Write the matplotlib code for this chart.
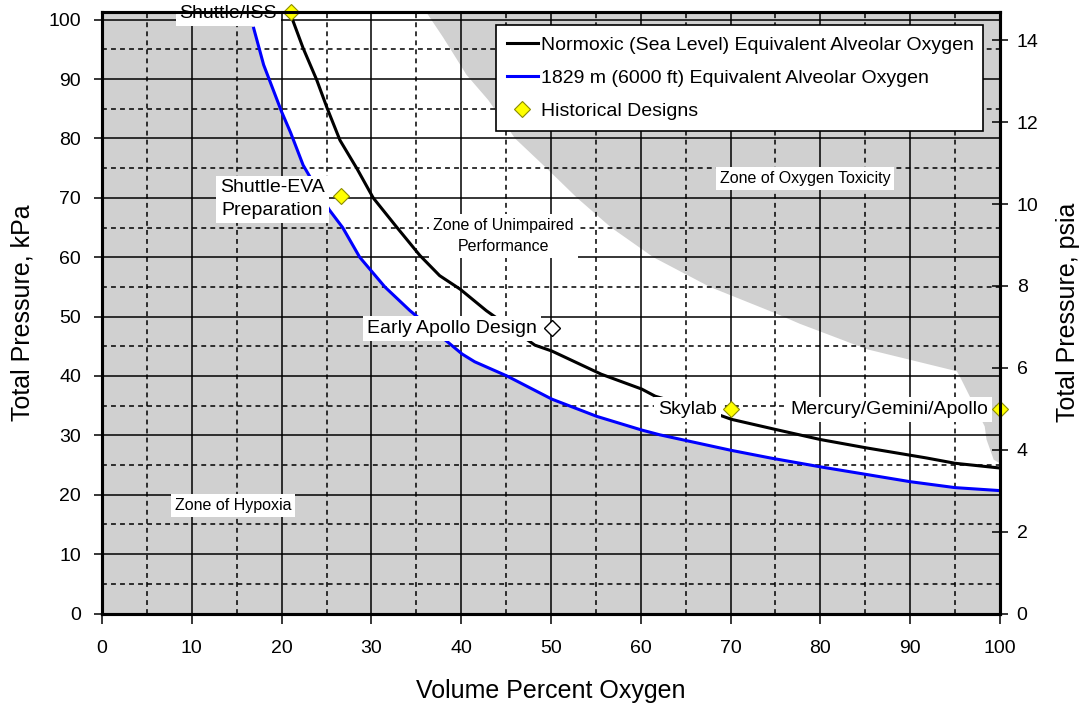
import matplotlib
matplotlib.use('Agg')
import matplotlib.pyplot as plt
import numpy as np
from matplotlib.lines import Line2D

plt.rcParams['font.family'] = ['Liberation Sans', 'DejaVu Sans']
plt.rcParams['lines.scale_dashes'] = False

# ---------------- data ----------------
# Normoxic (sea level) equivalent alveolar oxygen: O2 % vs total pressure kPa
o2_normoxic = [20.9, 22.4, 23.9, 25.1, 26.5, 28.4, 30.2, 32.8, 35.4, 37.6, 39.9, 42.8,
               48.2, 50.1, 53.2, 55.6, 60.1, 61.6, 68.8, 70.1, 75.0, 80.0, 85.1, 91.8, 95.0, 100.0]
p_normoxic = [101.3, 95.2, 89.9, 85.0, 79.7, 74.9, 70.0, 65.1, 60.3, 56.9, 54.6, 51.0,
              45.2, 44.2, 42.0, 40.3, 37.8, 36.6, 33.4, 32.7, 31.0, 29.3, 27.9, 26.2, 25.3, 24.5]

# 1829 m (6000 ft) equivalent alveolar oxygen
o2_6000ft = [16.85, 18.0, 20.0, 21.0, 22.4, 25.3, 26.8, 28.7, 31.5, 34.3, 38.75, 40.1, 41.5,
             45.1, 50.1, 55.1, 60.1, 62.1, 70.0, 74.4, 80.0, 90.0, 95.0, 100.0]
p_6000ft = [98.8, 92.4, 84.5, 81.0, 75.5, 68.0, 65.0, 60.0, 55.0, 51.0, 45.4, 43.7, 42.4,
            40.0, 36.1, 33.2, 30.9, 30.1, 27.5, 26.2, 24.7, 22.2, 21.2, 20.7]

# Upper limit of unimpaired zone (oxygen toxicity boundary)
tox_o2 = [36.1, 38.0, 40.6, 43.0, 46.0, 49.5, 52.9, 56.7, 61.4, 67.7, 75.1, 77.7,
          85.2, 95.2, 95.6, 98.3, 98.5, 99.3, 100.0]
tox_p = [101.3, 97.0, 90.7, 86.5, 80.0, 75.0, 70.0, 65.0, 60.0, 55.0, 50.5, 48.8,
         44.5, 40.8, 39.7, 31.5, 29.3, 25.9, 25.3]
hypoxia_top = (16.6, 101.3)   # where the hypoxia limit meets the top of the chart

# Historical designs
hist_names = ['Shuttle/ISS', 'Shuttle-EVA\nPreparation', 'Skylab', 'Mercury/Gemini/Apollo']
hist_o2 = [21.0, 26.6, 70.1, 100.0]
hist_p = [101.3, 70.3, 34.4, 34.4]
early_apollo = ('Early Apollo Design', 50.1, 48.0)

KPA_PER_PSI = 6.894757
P_MAX = 101.3

# ---------------- figure ----------------
fig = plt.figure(figsize=(10.84, 7.06), dpi=100)
ax = fig.add_axes([0.0941, 0.1310, 0.8284, 0.8520])
ax.set_xlim(0, 100)
ax.set_ylim(0, P_MAX)
ax.set_facecolor('#d0d0d0')

# white "unimpaired performance" zone
zone_x = [hypoxia_top[0]] + o2_6000ft + tox_o2[::-1]
zone_y = [hypoxia_top[1]] + p_6000ft + tox_p[::-1]
ax.fill(zone_x, zone_y, color='white', lw=0, zorder=0.2)

# grid
ax.set_xticks(np.arange(0, 101, 10))
ax.set_xticks(np.arange(5, 100, 10), minor=True)
ax.set_yticks(np.arange(0, 101, 10))
ax.set_yticks(np.arange(5, 100, 10), minor=True)
ax.set_axisbelow('line')
ax.grid(which='major', color='black', lw=1.1, ls='-')
ax.grid(which='minor', color='black', lw=1.1, ls=(0, (3.5, 3.0)))
ax.tick_params(which='minor', length=0)
ax.tick_params(axis='x', which='major', direction='out', length=7, width=1.1,
               pad=12, labelsize=14)
ax.tick_params(axis='y', which='major', direction='out', length=6, width=1.1,
               pad=9, labelsize=14)

# curves
ax.plot(o2_normoxic, p_normoxic, color='black', lw=2.2, zorder=3, solid_capstyle='butt')
ax.plot(o2_6000ft, p_6000ft, color='#0000ff', lw=2.2, zorder=3, solid_capstyle='butt')

# markers
ax.plot(hist_o2, hist_p, ls='none', marker='D', ms=8, mfc='#ffff00', mec='#8c8c00',
        mew=0.8, zorder=7, clip_on=False)
ax.plot([early_apollo[1]], [early_apollo[2]], ls='none', marker='D', ms=8, mfc='white',
        mec='black', mew=1.0, zorder=7, clip_on=False)

box = dict(boxstyle='square,pad=0.2', fc='white', ec='none')
ax.text(19.5, 101.1, hist_names[0], ha='right', va='center', fontsize=14, bbox=box,
        zorder=6, clip_on=False)
ax.text(19.0, 69.8, hist_names[1], ha='center', va='center', fontsize=14, bbox=box,
        zorder=6, linespacing=1.4)
ax.text(48.4, early_apollo[2], early_apollo[0], ha='right', va='center', fontsize=14,
        bbox=box, zorder=6)
ax.text(68.5, 34.4, hist_names[2], ha='right', va='center', fontsize=14, bbox=box, zorder=6)
ax.text(98.7, 34.4, hist_names[3], ha='right', va='center', fontsize=14, bbox=box, zorder=6)

zbox = dict(boxstyle='square,pad=0.25', fc='white', ec='none')
ax.text(14.6, 18.2, 'Zone of Hypoxia', ha='center', va='center', fontsize=11.5,
        bbox=zbox, zorder=6)
ax.text(78.3, 73.2, 'Zone of Oxygen Toxicity', ha='center', va='center', fontsize=11.5,
        bbox=zbox, zorder=6)
ax.text(44.7, 63.6, 'Zone of Unimpaired\nPerformance', ha='center', va='center',
        fontsize=11.5, bbox=zbox, zorder=6, linespacing=1.45)

for s in ax.spines.values():
    s.set_linewidth(2.2)
    s.set_zorder(4)

ax.set_xlabel('Volume Percent Oxygen', fontsize=18)
ax.xaxis.set_label_coords(0.5, -0.128)
ax.xaxis.label.set_va('center')
ax.set_ylabel('Total Pressure, kPa', fontsize=18)
ax.yaxis.set_label_coords(-0.089, 0.5)
ax.yaxis.label.set_va('center')

# right axis in psia
ax2 = ax.twinx()
ax2.set_ylim(0, P_MAX / KPA_PER_PSI)
ax2.set_yticks(np.arange(0, 15, 2))
ax2.tick_params(axis='y', direction='inout', length=12, width=1.1, pad=6, labelsize=14)
for s in ax2.spines.values():
    s.set_linewidth(2.2)
ax2.set_ylabel('Total Pressure, psia', fontsize=18)
ax2.yaxis.set_label_coords(1.0757, 0.5)
ax2.yaxis.label.set_va('center')

# legend
handles = [Line2D([], [], color='black', lw=2.2),
           Line2D([], [], color='#0000ff', lw=2.2),
           Line2D([], [], ls='none', marker='D', ms=8, mfc='#ffff00', mec='#8c8c00', mew=0.8)]
labels = ['Normoxic (Sea Level) Equivalent Alveolar Oxygen',
          '1829 m (6000 ft) Equivalent Alveolar Oxygen',
          'Historical Designs']
leg = ax2.legend(handles, labels, loc='upper left', bbox_to_anchor=(0.439, 0.978, 0.542, 0.0),
                 mode='expand', fontsize=14, frameon=True, fancybox=False,
                 framealpha=1, edgecolor='black', handlelength=1.6, handletextpad=0.15,
                 labelspacing=0.8, borderpad=0.55, borderaxespad=0)
leg.get_frame().set_linewidth(1.2)
leg.set_zorder(10)

fig.savefig('out.png', dpi=100)
